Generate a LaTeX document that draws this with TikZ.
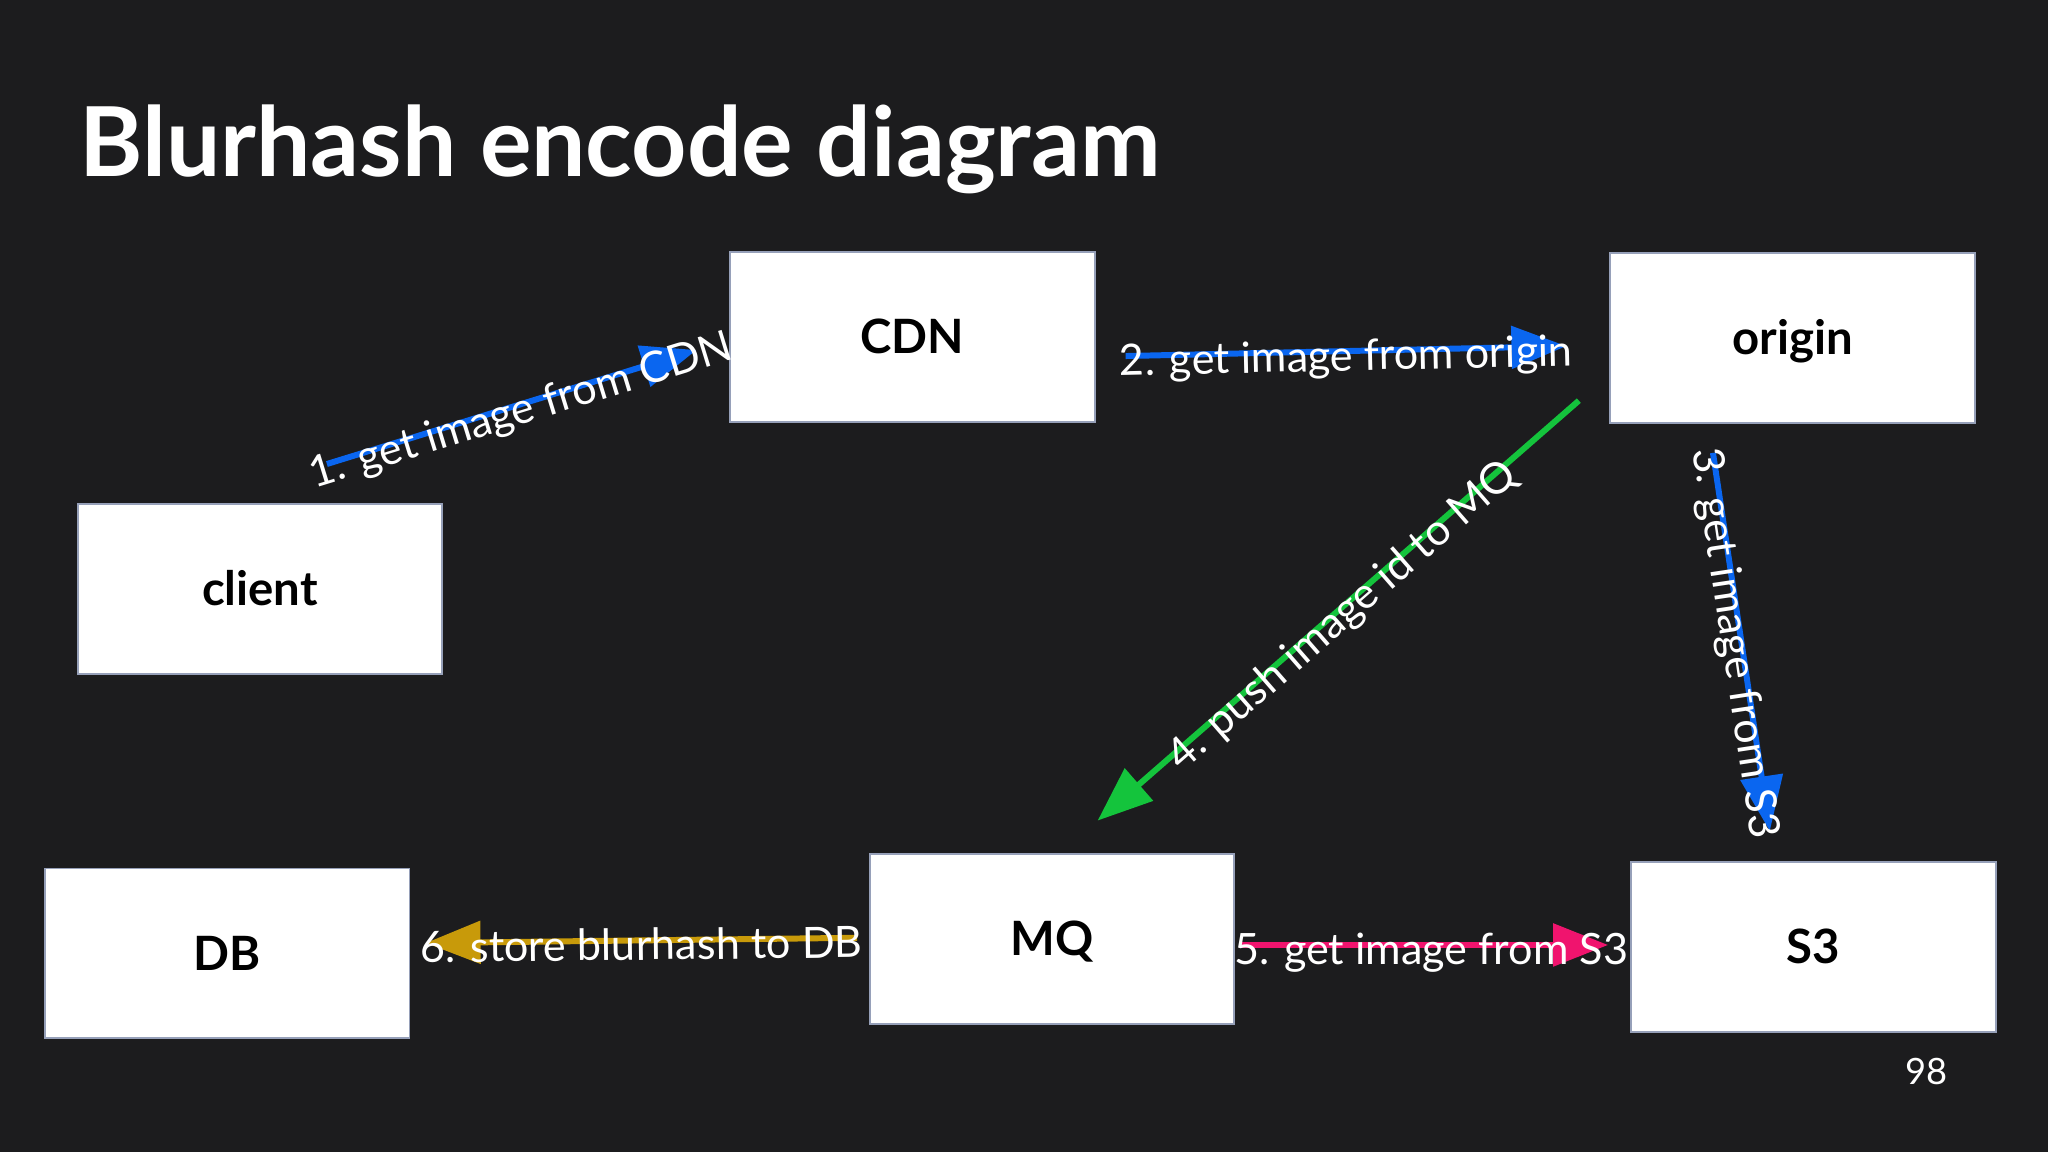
\documentclass[tikz,border=0pt]{standalone}
\usepackage{fontspec}
\setmainfont{Lato}
\usetikzlibrary{arrows.meta}
\definecolor{bg}{RGB}{28,28,30}
\definecolor{arrblue}{RGB}{10,102,240}
\definecolor{arrgreen}{RGB}{20,196,60}
\definecolor{arrpink}{RGB}{240,20,110}
\definecolor{arrgold}{RGB}{200,154,10}
\definecolor{boxline}{RGB}{150,160,185}

\begin{document}
\begin{tikzpicture}[x=0.01cm,y=-0.01cm,
    box/.style={rectangle,draw=boxline,line width=0.4pt,fill=white,text=black,
        minimum width=2.79cm,minimum height=1.30cm,inner sep=0pt,
        text height=0.255cm,text depth=0pt,font=\fontsize{10.3}{12}\selectfont\bfseries},
    flow/.style={line width=1.3pt,-{Triangle[length=0.42cm,width=0.32cm]}},
    lbl/.style={text=white,inner sep=0pt,text height=0.3cm,text depth=0pt,
        sloped,pos=0.5,font=\fontsize{9.4}{11}\selectfont}]
    \fill[bg] (0,0) rectangle (1568,882);
    \node[anchor=base west,inner sep=0pt,text=white,font=\fontsize{21}{24}\selectfont\bfseries] (title) at (60,135) {Blurhash encode diagram};
    \node[box] (CDN) at (698.5,258) {CDN};
    \node[box] (origin) at (1372.5,259) {origin};
    \node[box] (client) at (199,451) {client};
    \node[box] (DB) at (174,730) {DB};
    \node[box] (MQ) at (805.5,719) {MQ};
    \node[box] (S3) at (1388.5,725) {S3};
    \node[anchor=base,inner sep=0pt,text=white,font=\fontsize{7.9}{9}\selectfont] (page) at (1475,830) {98};
    \draw[flow,arrblue] ([shift={(-89,-30)}]client.north east) -- ([shift={(-25,10)}]CDN.west)
        node[lbl,pos=0.52] (l1) {1. get image from CDN};
    \draw[flow,arrblue] ([shift={(23,14.6)}]CDN.east) -- ([shift={(-33,6)}]origin.west)
        node[lbl] (l2) {2. get image from origin};
    \draw[flow,arrblue] ([shift={(-61,22)}]origin.south) -- ([shift={(-33.5,-23)}]S3.north)
        node[lbl] (l3) {3. get image from S3};
    \draw[flow,arrgreen] ([shift={(-23.4,-18)}]origin.south west) -- ([shift={(-105.4,-25)}]MQ.north east)
        node[lbl] (l4) {4. push image id to MQ};
    \draw[flow,arrpink] ([shift={(3,4.5)}]MQ.east) -- ([shift={(-17,-1.5)}]S3.west)
        node[lbl,pos=0.52] (l5) {5. get image from S3};
    \draw[flow,arrgold] ([shift={(-9,-1)}]MQ.west) -- ([shift={(11.6,-8)}]DB.east)
        node[lbl] (l6) {6. store blurhash to DB};
\end{tikzpicture}
\end{document}
